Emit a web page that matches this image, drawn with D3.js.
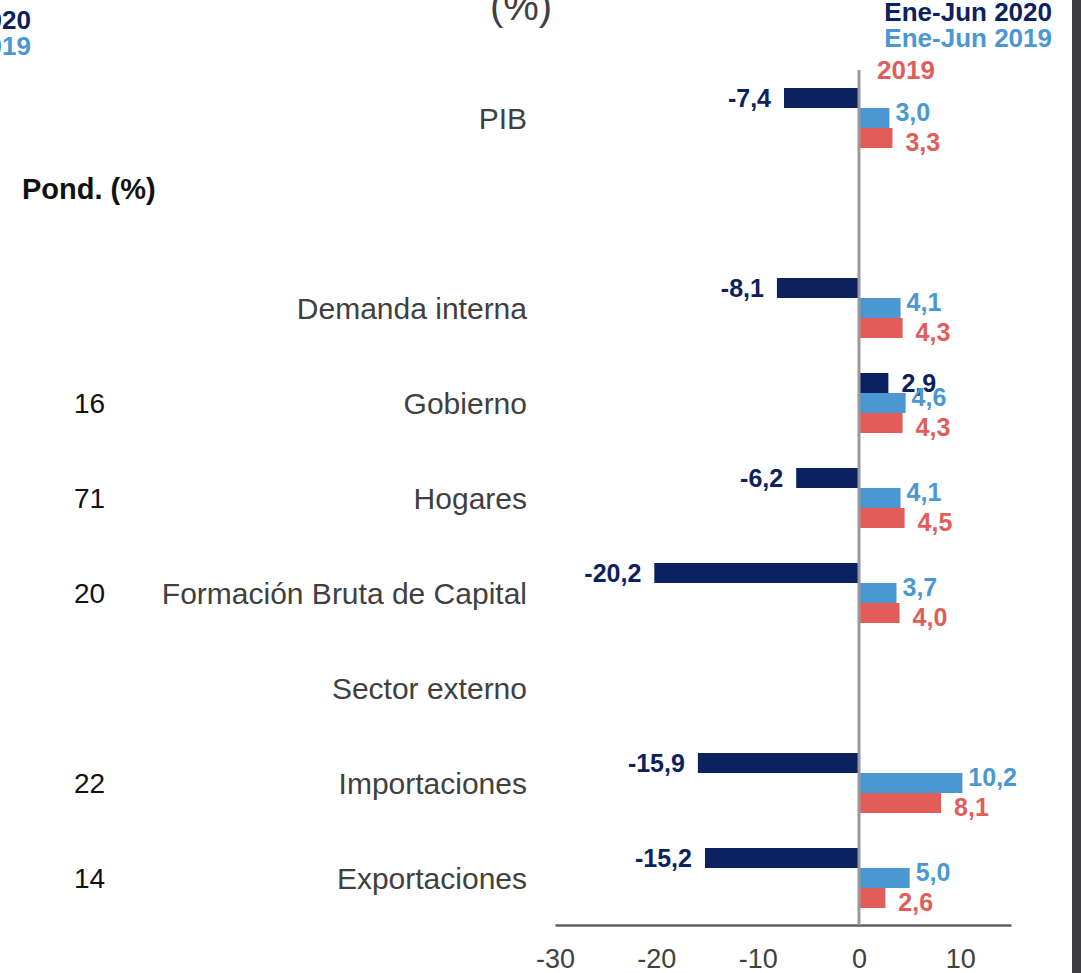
<!DOCTYPE html>
<html><head><meta charset="utf-8">
<script src="https://cdn.jsdelivr.net/npm/d3@7"></script>
<style>body{margin:0;background:#fff}svg{display:block}</style>
</head><body>
<svg id="c" width="1081" height="973"></svg>
<script>
const categories = ["PIB", "_gap", "Demanda interna", "Gobierno", "Hogares", "Formación Bruta de Capital", "Sector externo", "Importaciones", "Exportaciones"];
const pond = [null, null, null, "16", "71", "20", null, "22", "14"];
const seriesNames = ["Ene-Jun 2020", "Ene-Jun 2019", "2019"];
const ene2020 = [-7.4, null, -8.1, 2.9, -6.2, -20.2, null, -15.9, -15.2];
const ene2019 = [3.0, null, 4.1, 4.6, 4.1, 3.7, null, 10.2, 5.0];
const anual2019 = [3.3, null, 4.3, 4.3, 4.5, 4.0, null, 8.1, 2.6];
const xTicks = [-30, -20, -10, 0, 10];

const colors = ["#0b2160", "#4a97d2", "#e25d5a"];
const textGray = "#404040";
const font = "Liberation Sans, Arial, sans-serif";
const svg = d3.select("#c");

const x = d3.scaleLinear().domain([-30, 15]).range([555, 1011]);
const y = d3.scaleBand().domain(categories).range([70.5, 925.5]).paddingInner(0.3684).paddingOuter(0.1842);
const ys = d3.scaleBand().domain(seriesNames).range([0, y.bandwidth()]);
const fmt = v => d3.format(".1f")(v).replace(".", ",").replace("\u2212", "-");

// right dark strip
svg.append("rect").attr("x", 1072).attr("y", 0).attr("width", 9).attr("height", 973).attr("fill", "#3d3d3f");

// title (cut off)
svg.append("text").attr("x", 521).attr("y", 20).attr("text-anchor", "middle")
  .attr("font-family", font).attr("font-size", 40).attr("fill", textGray).text("(%)");

// top-left cut legend
svg.append("text").attr("x", 31).attr("y", 29).attr("text-anchor", "end").attr("font-family", font)
  .attr("font-weight", "bold").attr("font-size", 26).attr("fill", colors[0]).text("Ene-Jun 2020");
svg.append("text").attr("x", 31).attr("y", 55).attr("text-anchor", "end").attr("font-family", font)
  .attr("font-weight", "bold").attr("font-size", 26).attr("fill", colors[1]).text("Ene-Jun 2019");

// legend right
svg.append("text").attr("x", 1052).attr("y", 21).attr("text-anchor", "end").attr("font-family", font)
  .attr("font-weight", "bold").attr("font-size", 26).attr("fill", colors[0]).text(seriesNames[0]);
svg.append("text").attr("x", 1052).attr("y", 47).attr("text-anchor", "end").attr("font-family", font)
  .attr("font-weight", "bold").attr("font-size", 26).attr("fill", colors[1]).text(seriesNames[1]);
svg.append("text").attr("x", 877).attr("y", 79).attr("text-anchor", "start").attr("font-family", font)
  .attr("font-weight", "bold").attr("font-size", 26).attr("fill", colors[2]).text(seriesNames[2]);

// Pond. header
svg.append("text").attr("x", 22).attr("y", 199).attr("font-family", font).attr("font-weight", "bold")
  .attr("font-size", 29).attr("fill", "#111").text("Pond. (%)");

// category labels
const cy = c => y(c) + y.bandwidth() / 2;
svg.append("g").selectAll("text").data(categories.filter(c => c !== "_gap")).join("text")
  .attr("x", 527).attr("y", c => cy(c)).attr("dy", "0.36em").attr("text-anchor", "end")
  .attr("font-family", font).attr("font-size", 30).attr("fill", textGray).text(c => c);

// pond values
svg.append("g").selectAll("text").data(categories.map((c, i) => ({c, p: pond[i]})).filter(d => d.p)).join("text")
  .attr("x", 74).attr("y", d => cy(d.c)).attr("dy", "0.36em")
  .attr("font-family", font).attr("font-size", 28).attr("fill", "#111").text(d => d.p);

// axis
const ax = svg.append("g").attr("transform", "translate(0,925)")
  .call(d3.axisBottom(x).tickValues(xTicks).tickSize(0).tickPadding(24).tickFormat(d => String(d)));
ax.select(".domain").attr("stroke", "#606060").attr("stroke-width", 2.5);
ax.selectAll("text").attr("font-family", font).attr("font-size", 27).attr("fill", textGray);

// bars
const series = [ene2020, ene2019, anual2019];
const rows = [];
series.forEach((arr, si) => arr.forEach((v, i) => { if (v !== null) rows.push({c: categories[i], s: seriesNames[si], si, v}); }));

svg.append("g").selectAll("rect").data(rows).join("rect")
  .attr("x", d => x(Math.min(0, d.v))).attr("width", d => Math.abs(x(d.v) - x(0)))
  .attr("y", d => y(d.c) + ys(d.s)).attr("height", ys.bandwidth())
  .attr("fill", d => colors[d.si]);

// zero line
svg.append("line").attr("x1", x(0)).attr("x2", x(0)).attr("y1", 70).attr("y2", 925)
  .attr("stroke", "#9a9a9a").attr("stroke-width", 3);

// value labels
const dyShift = [0, -6, 4];
svg.append("g").selectAll("text").data(rows).join("text")
  .attr("x", d => d.v < 0 ? x(d.v) - 13 : x(d.v) + (d.si === 1 ? 6 : 13))
  .attr("y", d => y(d.c) + ys(d.s) + ys.bandwidth() / 2 + dyShift[d.si])
  .attr("dy", "0.36em").attr("text-anchor", d => d.v < 0 ? "end" : "start")
  .attr("font-family", font).attr("font-weight", "bold").attr("font-size", 25)
  .attr("fill", d => colors[d.si]).text(d => fmt(d.v));
</script>
</body></html>
